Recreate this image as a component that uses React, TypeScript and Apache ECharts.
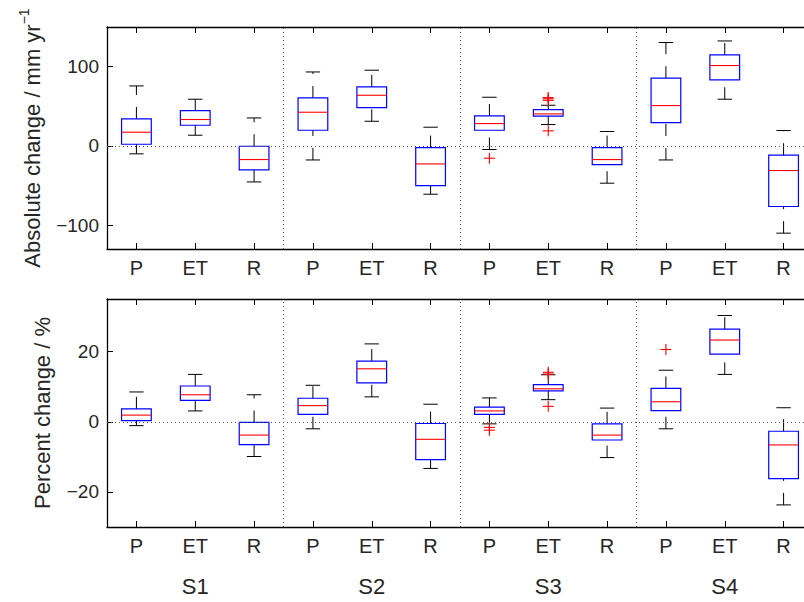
import React, { useEffect, useRef } from 'react';
import * as echarts from 'echarts';

const categories = ['P', 'ET', 'R', 'P', 'ET', 'R', 'P', 'ET', 'R', 'P', 'ET', 'R'];
const categoryPositions = [1, 2, 3, 4, 5, 6, 7, 8, 9, 10, 11, 12];
const scenarios = ['S1', 'S2', 'S3', 'S4'];
const scenarioPositions = [2, 5, 8, 11];
const separators = [3.5, 6.5, 9.5];

// Absolute change (mm/yr)
const absLower = [-10, 13.5, -45.4, -17.7, 31.1, -60.9, -4.5, 27, -47, -17.7, 58.9, -110];
const absQ1 = [2.1, 26.1, -30.2, 19.8, 48.4, -50, 19.8, 37.5, -23.5, 29.5, 83.2, -76.4];
const absMedian = [17.3, 33.3, -17.2, 42.5, 63.9, -22.7, 28.2, 40.4, -17.2, 50.9, 101.4, -31];
const absQ3 = [34, 44.6, -0.4, 60.5, 74.4, -2.1, 37.8, 45.9, -2.1, 85.4, 114.8, -11.7];
const absUpper = [75.7, 58.9, 35.3, 93.3, 95.5, 23.6, 61.4, 51.3, 18.2, 130.4, 132.4, 19.4];
const absOutliers = [[7, -15.5], [8, 57.5], [8, 59.5], [8, 61], [8, 19]];
const absTicks = [-100, 0, 100];

// Percent change (%)
const pctLower = [-1.1, 3.1, -9.9, -2.0, 7.1, -13.3, -0.6, 6.3, -10.2, -2.0, 13.5, -23.7];
const pctQ1 = [0.3, 6.1, -6.5, 2.1, 11.1, -10.8, 2.1, 8.8, -5.2, 3.2, 19.3, -16.2];
const pctMedian = [1.9, 7.7, -3.8, 4.6, 15.1, -5.0, 3.1, 9.4, -3.8, 5.7, 23.3, -6.6];
const pctQ3 = [3.7, 10.2, -0.2, 6.7, 17.3, -0.5, 4.2, 10.6, -0.6, 9.5, 26.4, -2.7];
const pctUpper = [8.5, 13.5, 7.7, 10.4, 22.2, 5.0, 6.8, 13.4, 3.9, 14.7, 30.3, 4.0];
const pctOutliers = [[7, -1.6], [7, -2.4], [8, 13.6], [8, 14.1], [8, 4.4], [10, 20.6]];
const pctTicks = [-20, 0, 20];

const FONT = '"Liberation Sans", Arial, Helvetica, sans-serif';
const TEXT = '#262626';

function boxData(lo: number[], q1: number[], md: number[], q3: number[], hi: number[]) {
  return categoryPositions.map((x, i) => [x, lo[i], q1[i], md[i], q3[i], hi[i]]);
}

const renderBox = (_params: any, api: any) => {
  const x = api.value(0);
  const lo = api.coord([x, api.value(1)]);
  const q1 = api.coord([x, api.value(2)]);
  const md = api.coord([x, api.value(3)]);
  const q3 = api.coord([x, api.value(4)]);
  const hi = api.coord([x, api.value(5)]);
  const unit = api.size([1, 0])[0];
  const bw = unit * 0.505;
  const cw = unit * 0.245;
  const cx = q1[0];
  const whisker = { stroke: '#000', lineWidth: 1, lineDash: [12, 12], fill: null };
  const solid = { stroke: '#000', lineWidth: 1, fill: null };
  return {
    type: 'group',
    children: [
      { type: 'line', shape: { x1: cx, y1: q3[1], x2: cx, y2: hi[1] }, style: whisker },
      { type: 'line', shape: { x1: cx, y1: lo[1], x2: cx, y2: q1[1] }, style: whisker },
      { type: 'line', shape: { x1: cx - cw / 2, y1: hi[1], x2: cx + cw / 2, y2: hi[1] }, style: solid },
      { type: 'line', shape: { x1: cx - cw / 2, y1: lo[1], x2: cx + cw / 2, y2: lo[1] }, style: solid },
      {
        type: 'rect',
        shape: { x: cx - bw / 2, y: q3[1], width: bw, height: q1[1] - q3[1] },
        style: { stroke: '#0000ff', lineWidth: 1.2, fill: null },
      },
      { type: 'line', shape: { x1: cx - bw / 2, y1: md[1], x2: cx + bw / 2, y2: md[1] }, style: { stroke: '#ff0000', lineWidth: 1.1 } },
    ],
  };
};

const renderPlus = (_params: any, api: any) => {
  const p = api.coord([api.value(0), api.value(1)]);
  const h = 5.5;
  return {
    type: 'group',
    children: [
      { type: 'line', shape: { x1: p[0] - h, y1: p[1], x2: p[0] + h, y2: p[1] }, style: { stroke: '#ff0000', lineWidth: 1.1 } },
      { type: 'line', shape: { x1: p[0], y1: p[1] - h, x2: p[0], y2: p[1] + h }, style: { stroke: '#ff0000', lineWidth: 1.1 } },
    ],
  };
};

const refLines = {
  silent: true,
  symbol: ['none', 'none'],
  label: { show: false },
  animation: false,
  lineStyle: { color: '#555', type: [1, 3], width: 1 },
  data: [{ yAxis: 0 }, ...separators.map((s) => ({ xAxis: s }))],
};

function xAxisBase(gridIndex: number, position: 'top' | 'bottom', showLabels: boolean) {
  return {
    type: 'value',
    gridIndex,
    position,
    min: 0.5,
    max: 12.5,
    splitLine: { show: false },
    axisLine: { show: true, onZero: false, lineStyle: { color: '#000', width: 1.3 } },
    axisTick: { show: true, inside: true, length: 6, customValues: categoryPositions, lineStyle: { color: '#000', width: 1 } },
    axisLabel: {
      show: showLabels,
      customValues: categoryPositions,
      formatter: (v: number) => categories[Math.round(v) - 1] ?? '',
      fontSize: 20,
      fontFamily: FONT,
      color: TEXT,
      margin: 9,
    },
  };
}

function yAxisBase(gridIndex: number, min: number, max: number, ticks: number[], name: string, nameGap: number, rich?: any) {
  return {
    type: 'value',
    gridIndex,
    position: 'left',
    min,
    max,
    splitLine: { show: false },
    axisLine: { show: true, onZero: false, lineStyle: { color: '#000', width: 1.3 } },
    axisTick: { show: true, inside: true, length: 6, customValues: ticks, lineStyle: { color: '#000', width: 1 } },
    axisLabel: {
      customValues: ticks,
      formatter: (v: number) => (v < 0 ? '\u2212' + Math.abs(v) : String(v)),
      fontSize: 19,
      fontFamily: FONT,
      color: TEXT,
      margin: 8,
    },
    name,
    nameLocation: 'middle',
    nameGap,
    nameTextStyle: { fontSize: 22, fontFamily: FONT, color: TEXT, rich },
  };
}

export default function App() {
  const ref = useRef<HTMLDivElement>(null);
  useEffect(() => {
    document.body.style.margin = '0';
    document.body.style.overflow = 'hidden';
    if (!ref.current) return;
    const chart = echarts.init(ref.current, undefined, { renderer: 'svg' });
    chart.setOption({
      animation: false,
      backgroundColor: '#fff',
      textStyle: { fontFamily: FONT },
      grid: [
        { left: 107, top: 27, width: 706, height: 222 },
        { left: 107, top: 299, width: 706, height: 228 },
      ],
      xAxis: [
        xAxisBase(0, 'bottom', true),
        xAxisBase(0, 'top', false),
        xAxisBase(1, 'bottom', true),
        xAxisBase(1, 'top', false),
        {
          type: 'value',
          gridIndex: 1,
          position: 'bottom',
          offset: 40,
          min: 0.5,
          max: 12.5,
          splitLine: { show: false },
          axisLine: { show: false },
          axisTick: { show: false },
          axisLabel: {
            customValues: scenarioPositions,
            formatter: (v: number) => scenarios[scenarioPositions.indexOf(Math.round(v))] ?? '',
            fontSize: 22,
            fontFamily: FONT,
            color: TEXT,
            margin: 8,
          },
        },
      ],
      yAxis: [
        yAxisBase(0, -130, 150, absTicks, '{a|Absolute change / mm yr}{b|\u22121}', 64, {
          a: { fontSize: 22, fontFamily: FONT, color: TEXT, lineHeight: 26, verticalAlign: 'bottom' },
          b: { fontSize: 14, fontFamily: FONT, color: TEXT, lineHeight: 26, verticalAlign: 'top' },
        }),
        yAxisBase(1, -30, 35, pctTicks, 'Percent change / %', 54),
      ],
      series: [
        {
          type: 'custom',
          xAxisIndex: 0,
          yAxisIndex: 0,
          renderItem: renderBox,
          encode: { x: 0, y: [1, 2, 3, 4, 5] },
          data: boxData(absLower, absQ1, absMedian, absQ3, absUpper),
          markLine: refLines,
          z: 3,
        },
        {
          type: 'custom',
          xAxisIndex: 0,
          yAxisIndex: 0,
          renderItem: renderPlus,
          encode: { x: 0, y: 1 },
          data: absOutliers,
          z: 4,
        },
        {
          type: 'custom',
          xAxisIndex: 2,
          yAxisIndex: 1,
          renderItem: renderBox,
          encode: { x: 0, y: [1, 2, 3, 4, 5] },
          data: boxData(pctLower, pctQ1, pctMedian, pctQ3, pctUpper),
          markLine: refLines,
          z: 3,
        },
        {
          type: 'custom',
          xAxisIndex: 2,
          yAxisIndex: 1,
          renderItem: renderPlus,
          encode: { x: 0, y: 1 },
          data: pctOutliers,
          z: 4,
        },
      ],
    });
    return () => chart.dispose();
  }, []);
  return <div ref={ref} style={{ width: 830, height: 602 }} />;
}
